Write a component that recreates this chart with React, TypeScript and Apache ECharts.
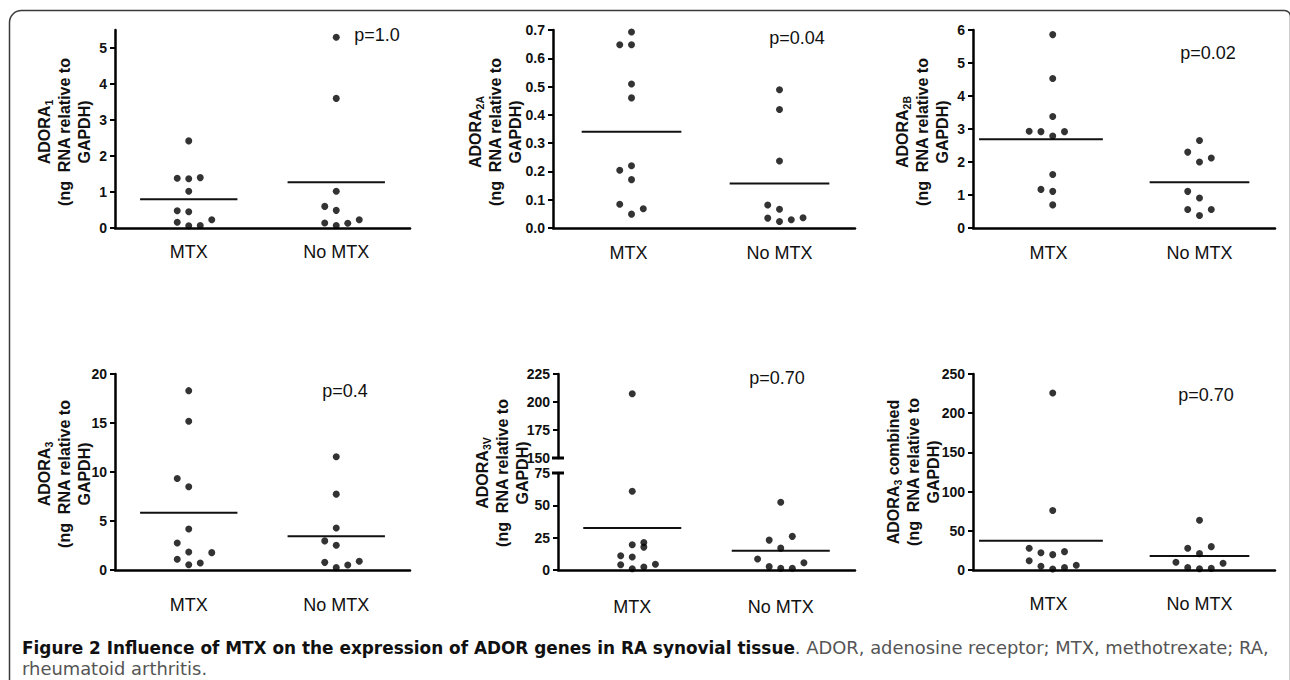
import React, { useEffect, useRef } from 'react';
import * as echarts from 'echarts';

// ---------- data ----------
const CATEGORIES = ['MTX', 'No MTX'];

// ADORA1
const adora1MtxValues = [2.42, 1.38, 1.37, 1.4, 1.02, 0.48, 0.45, 0.16, 0.06, 0.07, 0.23];
const adora1MtxColumns = [0, -1, 0, 1, 0, -1, 0, -1, 0, 1, 2];
const adora1NoMtxValues = [5.3, 3.6, 1.02, 0.6, 0.49, 0.14, 0.07, 0.13, 0.23];
const adora1NoMtxColumns = [0, 0, 0, -1, 0, -1, 0, 1, 2];
const adora1Means = [0.8, 1.27];
const adora1Ticks = [0, 1, 2, 3, 4, 5];

// ADORA2A
const adora2aMtxValues = [0.693, 0.648, 0.648, 0.509, 0.46, 0.22, 0.204, 0.171, 0.084, 0.068, 0.049];
const adora2aMtxColumns = [0, -1, 0, 0, 0, 0, -1, 0, -1, 1, 0];
const adora2aNoMtxValues = [0.489, 0.419, 0.237, 0.081, 0.066, 0.035, 0.023, 0.029, 0.036];
const adora2aNoMtxColumns = [0, 0, 0, -1, 0, -1, 0, 1, 2];
const adora2aMeans = [0.34, 0.157];
const adora2aTicks = [0, 0.1, 0.2, 0.3, 0.4, 0.5, 0.6, 0.7];

// ADORA2B
const adora2bMtxValues = [5.86, 4.53, 3.38, 2.93, 2.92, 2.79, 2.92, 1.62, 1.17, 1.11, 0.7];
const adora2bMtxColumns = [1, 1, 1, -1, 0, 1, 2, 1, 0, 1, 1];
const adora2bNoMtxValues = [2.65, 2.3, 2.0, 2.12, 1.11, 0.91, 0.56, 0.38, 0.56];
const adora2bNoMtxColumns = [0, -1, 0, 1, -1, 0, -1, 0, 1];
const adora2bMeans = [2.69, 1.39];
const adora2bTicks = [0, 1, 2, 3, 4, 5, 6];

// ADORA3
const adora3MtxValues = [18.3, 15.17, 9.34, 8.49, 4.19, 2.76, 1.84, 1.77, 1.09, 0.54, 0.72];
const adora3MtxColumns = [0, 0, -1, 0, 0, -1, 0, 2, -1, 0, 1];
const adora3NoMtxValues = [11.55, 7.74, 4.29, 2.97, 2.52, 0.78, 0.24, 0.51, 0.89];
const adora3NoMtxColumns = [0, 0, 0, -1, 0, -1, 0, 1, 2];
const adora3Means = [5.83, 3.45];
const adora3Ticks = [0, 5, 10, 15, 20];

// ADORA3V (broken axis)
const adora3vMtxValues = [207.3, 60.9, 19.5, 21.3, 17.7, 11.0, 10.0, 4.1, 1.0, 2.3, 4.4];
const adora3vMtxColumns = [0, 0, 0, 1, 1, -1, 0, -1, 0, 1, 2];
const adora3vNoMtxValues = [52.4, 23.1, 26.0, 16.9, 8.5, 2.6, 1.3, 1.3, 5.6];
const adora3vNoMtxColumns = [0, -1, 1, 0, -2, -1, 0, 1, 2];
const adora3vMeans = [32.4, 14.9];
const adora3vUpperTicks = [150, 175, 200, 225];
const adora3vLowerTicks = [0, 25, 50, 75];

// ADORA3 combined
const adora3cMtxValues = [225.7, 75.8, 27.7, 22.1, 19.6, 23.4, 11.9, 4.7, 1.3, 3.0, 6.0];
const adora3cMtxColumns = [1, 1, -1, 0, 1, 2, -1, 0, 1, 2, 3];
const adora3cNoMtxValues = [63.5, 27.7, 20.9, 29.8, 9.8, 8.5, 3.0, 1.5, 2.1];
const adora3cNoMtxColumns = [0, -1, 0, 1, -2, 2, -1, 0, 1];
const adora3cMeans = [37.4, 17.9];
const adora3cTicks = [0, 50, 100, 150, 200, 250];

const pValues = ['p=1.0', 'p=0.04', 'p=0.02', 'p=0.4', 'p=0.70', 'p=0.70'];

const CAPTION_BOLD = 'Figure 2 Influence of MTX on the expression of ADOR genes in RA synovial tissue';
const CAPTION_REST = '. ADOR, adenosine receptor; MTX, methotrexate; RA,';
const CAPTION_LINE2 = 'rheumatoid arthritis.';

// ---------- layout / style ----------
const FONT = '"Liberation Sans", Arial, Helvetica, sans-serif';
const CAPTION_FONT = '"DejaVu Sans", "Noto Sans", sans-serif';
const CAPTION_BOLD_SIZE = 16.9;
const CAPTION_SIZE = 17.9;
const INK = '#111';
const STEP = 0.078;

type Segment = { top: number; height: number; min: number; max: number; ticks: number[]; showX: boolean };
type Panel = {
  left: number;
  width: number;
  segments: Segment[];
  groups: { values: number[]; columns: number[] }[];
  means: number[];
  centers: number[];
  halfWidths: number[];
  fmt: (v: number) => string;
  labelMargin: number;
  sub: string;
  suffix: string;
  titleX: number;
  titleY: number;
  pText: string;
  pX: number;
  pY: number;
};

const intFmt = (v: number) => String(Math.round(v));

const panels: Panel[] = [
  {
    left: 115, width: 295,
    segments: [{ top: 30, height: 198, min: 0, max: 5.5, ticks: adora1Ticks, showX: true }],
    groups: [
      { values: adora1MtxValues, columns: adora1MtxColumns },
      { values: adora1NoMtxValues, columns: adora1NoMtxColumns },
    ],
    means: adora1Means, centers: [0.5, 1.5], halfWidths: [0.33, 0.33], fmt: intFmt,
    labelMargin: 15, sub: '1', suffix: '', titleX: 64, titleY: 132, pText: pValues[0], pX: 377, pY: 35,
  },
  {
    left: 553, width: 302,
    segments: [{ top: 30, height: 198, min: 0, max: 0.7, ticks: adora2aTicks, showX: true }],
    groups: [
      { values: adora2aMtxValues, columns: adora2aMtxColumns },
      { values: adora2aNoMtxValues, columns: adora2aNoMtxColumns },
    ],
    means: adora2aMeans, centers: [0.52, 1.5], halfWidths: [0.33, 0.33], fmt: (v) => v.toFixed(1),
    labelMargin: 16, sub: '2A', suffix: '', titleX: 495, titleY: 132, pText: pValues[1], pX: 797, pY: 38,
  },
  {
    left: 973, width: 302,
    segments: [{ top: 30, height: 198, min: 0, max: 6, ticks: adora2bTicks, showX: true }],
    groups: [
      { values: adora2bMtxValues, columns: adora2bMtxColumns },
      { values: adora2bNoMtxValues, columns: adora2bNoMtxColumns },
    ],
    means: adora2bMeans, centers: [0.45, 1.5], halfWidths: [0.41, 0.33], fmt: intFmt,
    labelMargin: 16, sub: '2B', suffix: '', titleX: 922, titleY: 132, pText: pValues[2], pX: 1208, pY: 53,
  },
  {
    left: 115, width: 295,
    segments: [{ top: 374, height: 196, min: 0, max: 20, ticks: adora3Ticks, showX: true }],
    groups: [
      { values: adora3MtxValues, columns: adora3MtxColumns },
      { values: adora3NoMtxValues, columns: adora3NoMtxColumns },
    ],
    means: adora3Means, centers: [0.5, 1.5], halfWidths: [0.33, 0.33], fmt: intFmt,
    labelMargin: 26, sub: '3', suffix: '', titleX: 64, titleY: 474, pText: pValues[3], pX: 345, pY: 391,
  },
  {
    left: 558, width: 297,
    segments: [
      { top: 374, height: 84, min: 150, max: 225, ticks: adora3vUpperTicks, showX: false },
      { top: 473, height: 97, min: 0, max: 75, ticks: adora3vLowerTicks, showX: true },
    ],
    groups: [
      { values: adora3vMtxValues, columns: adora3vMtxColumns },
      { values: adora3vNoMtxValues, columns: adora3vNoMtxColumns },
    ],
    means: adora3vMeans, centers: [0.5, 1.5], halfWidths: [0.33, 0.33], fmt: intFmt,
    labelMargin: 28, sub: '3V', suffix: '', titleX: 502, titleY: 473, pText: pValues[4], pX: 777, pY: 378,
  },
  {
    left: 973, width: 302,
    segments: [{ top: 374, height: 196, min: 0, max: 250, ticks: adora3cTicks, showX: true }],
    groups: [
      { values: adora3cMtxValues, columns: adora3cMtxColumns },
      { values: adora3cNoMtxValues, columns: adora3cNoMtxColumns },
    ],
    means: adora3cMeans, centers: [0.45, 1.5], halfWidths: [0.41, 0.33], fmt: intFmt,
    labelMargin: 25, sub: '3', suffix: ' combined', titleX: 913, titleY: 472, pText: pValues[5], pX: 1206, pY: 395,
  },
];

function buildOption() {
  const grid: any[] = [];
  const xAxis: any[] = [];
  const yAxis: any[] = [];
  const series: any[] = [];
  const graphic: any[] = [];

  graphic.push({
    type: 'rect',
    silent: true,
    shape: { x: 9.5, y: 10.5, width: 1281, height: 720, r: [12, 6, 0, 0] },
    style: { fill: 'none', stroke: '#3a3a3a', lineWidth: 1.5 },
  });

  panels.forEach((p) => {
    const segIdx: number[] = [];
    p.segments.forEach((s) => {
      const g = grid.length;
      segIdx.push(g);
      grid.push({ left: p.left, top: s.top, width: p.width, height: s.height, outerBoundsMode: 'none' });
      xAxis.push({
        gridIndex: g,
        type: 'value',
        min: 0,
        max: 2,
        show: s.showX,
        axisLine: { show: true, onZero: false, lineStyle: { color: '#000', width: 2.5 } },
        axisTick: { show: false },
        splitLine: { show: false },
        axisLabel: {
          customValues: [0.5, 1.5],
          formatter: (v: number) => CATEGORIES[v < 1 ? 0 : 1],
          margin: p.labelMargin,
          fontSize: 18,
          color: INK,
          fontFamily: FONT,
        },
      });
      yAxis.push({
        gridIndex: g,
        type: 'value',
        min: s.min,
        max: s.max,
        axisLine: { show: true, onZero: false, lineStyle: { color: '#000', width: 2.5 } },
        axisTick: { show: true, length: 5, customValues: s.ticks, lineStyle: { color: '#000', width: 2 } },
        splitLine: { show: false },
        axisLabel: {
          customValues: s.ticks,
          formatter: (v: number) => p.fmt(v),
          margin: 8,
          fontSize: 14,
          fontWeight: 'bold',
          color: INK,
          fontFamily: FONT,
        },
      });
    });

    const segFor = (v: number) => {
      const k = p.segments.findIndex((s) => v >= s.min && v <= s.max);
      return segIdx[k < 0 ? 0 : k];
    };

    p.groups.forEach((grp, gi) => {
      const bySeg: Record<number, number[][]> = {};
      grp.values.forEach((v, i) => {
        const si = segFor(v);
        (bySeg[si] = bySeg[si] || []).push([p.centers[gi] + grp.columns[i] * STEP, v]);
      });
      Object.keys(bySeg).forEach((k) => {
        const si = Number(k);
        series.push({
          type: 'scatter',
          xAxisIndex: si,
          yAxisIndex: si,
          data: bySeg[si],
          symbol: 'circle',
          symbolSize: 7,
          itemStyle: { color: '#000' },
          silent: true,
          z: 3,
        });
      });
      const m = p.means[gi];
      const ms = segFor(m);
      series.push({
        type: 'line',
        xAxisIndex: ms,
        yAxisIndex: ms,
        data: [
          [p.centers[gi] - p.halfWidths[gi], m],
          [p.centers[gi] + p.halfWidths[gi], m],
        ],
        symbol: 'none',
        lineStyle: { color: '#111', width: 2 },
        silent: true,
        z: 2,
      });
    });

    // broken-axis marks
    if (p.segments.length > 1) {
      const upper = p.segments[0];
      const lower = p.segments[1];
      [upper.top + upper.height, lower.top].forEach((y) => {
        graphic.push({
          type: 'line',
          silent: true,
          shape: { x1: p.left - 6, y1: y, x2: p.left + 6, y2: y },
          style: { stroke: '#000', lineWidth: 3 },
        });
      });
    }

    graphic.push({
      type: 'text',
      silent: true,
      x: p.titleX,
      y: p.titleY,
      rotation: Math.PI / 2,
      style: {
        text: `{t|ADORA}{s|${p.sub}}{t|${p.suffix}}\n{t|(ng  RNA relative to}\n{t|GAPDH)}`,
        align: 'center',
        verticalAlign: 'middle',
        fontFamily: FONT,
        fontWeight: 'bold',
        fontSize: 16,
        lineHeight: 20,
        fill: INK,
        rich: {
          t: { fontFamily: FONT, fontWeight: 'bold', fontSize: 16, lineHeight: 20, fill: INK },
          s: { fontFamily: FONT, fontWeight: 'bold', fontSize: 10.5, lineHeight: 20, fill: INK, verticalAlign: 'bottom', padding: [6, 0, 0, 0] },
        },
      },
    });

    graphic.push({
      type: 'text',
      silent: true,
      x: p.pX,
      y: p.pY,
      style: {
        text: p.pText,
        align: 'center',
        verticalAlign: 'middle',
        fontFamily: FONT,
        fontSize: 18,
        fill: INK,
      },
    });
  });

  graphic.push({
    type: 'text',
    silent: true,
    x: 22,
    y: 637,
    style: {
      text: `{b|${CAPTION_BOLD}}{r|${CAPTION_REST}}\n{r|${CAPTION_LINE2}}`,
      align: 'left',
      verticalAlign: 'top',
      fontFamily: CAPTION_FONT,
      fontSize: CAPTION_SIZE,
      lineHeight: 21,
      rich: {
        b: { fontFamily: CAPTION_FONT, fontWeight: 'bold', fontSize: CAPTION_BOLD_SIZE, lineHeight: 21, fill: '#111' },
        r: { fontFamily: CAPTION_FONT, fontSize: CAPTION_SIZE, lineHeight: 21, fill: '#555' },
      },
    },
  });

  return {
    animation: false,
    backgroundColor: '#fff',
    textStyle: { fontFamily: FONT },
    grid,
    xAxis,
    yAxis,
    series,
    graphic,
  };
}

export default function App() {
  const ref = useRef<HTMLDivElement>(null);
  useEffect(() => {
    if (!ref.current) return;
    const chart = echarts.init(ref.current, undefined, { renderer: 'svg' });
    chart.setOption(buildOption() as any);
    return () => chart.dispose();
  }, []);
  return (
    <div
      ref={ref}
      style={{ position: 'absolute', left: 0, top: 0, width: 1290, height: 680, background: '#fff' }}
    />
  );
}
